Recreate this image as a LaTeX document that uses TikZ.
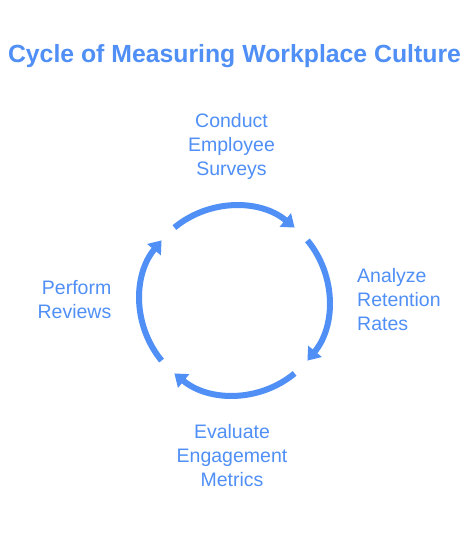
\documentclass[tikz,border=0pt]{standalone}
\usepackage{fontspec}
\setmainfont{Liberation Sans}
\usetikzlibrary{arrows.meta,calc}
\definecolor{cycblue}{HTML}{4F8FF6}
\begin{document}
\begin{tikzpicture}[x=1pt,y=1pt,
  lbl/.style={text=cycblue, inner sep=0pt, font=\fontsize{19.5}{24}\selectfont},
  cyc/.style={draw=cycblue, line width=6pt, -{Triangle[length=12pt,width=17pt]}}]
\useasboundingbox[fill=white] (0,0) rectangle (475,541);
\node[text=cycblue, inner sep=0pt, anchor=base, font=\fontsize{24.8}{29}\selectfont\bfseries] (title) at (234.5,478) {Cycle of Measuring Workplace Culture};
\coordinate (c) at (234.5,240.5);
\node[lbl, anchor=base, align=center] (top) at (231.5,365.7) {Conduct\\Employee\\Surveys};
\node[lbl, anchor=base west, align=left] (right) at (357,210.3) {Analyze\\Retention\\Rates};
\node[lbl, anchor=base, align=center] (bottom) at (232,54) {Evaluate\\Engagement\\Metrics};
\node[lbl, anchor=base east, align=right] (left) at (111.5,222) {Perform\\Reviews};
\coordinate (a1) at ($(c)+(129.5:94.5)$);
\coordinate (a2) at ($(c)+(39.5:94.5)$);
\coordinate (a3) at ($(c)+(-50.5:94.5)$);
\coordinate (a4) at ($(c)+(-140.5:94.5)$);
\draw[cyc] (a1) arc[start angle=129.5, end angle=50.5, radius=94.5];
\draw[cyc] (a2) arc[start angle=39.5, end angle=-39.5, radius=94.5];
\draw[cyc] (a3) arc[start angle=-50.5, end angle=-129.5, radius=94.5];
\draw[cyc] (a4) arc[start angle=-140.5, end angle=-219.5, radius=94.5];
\end{tikzpicture}
\end{document}
